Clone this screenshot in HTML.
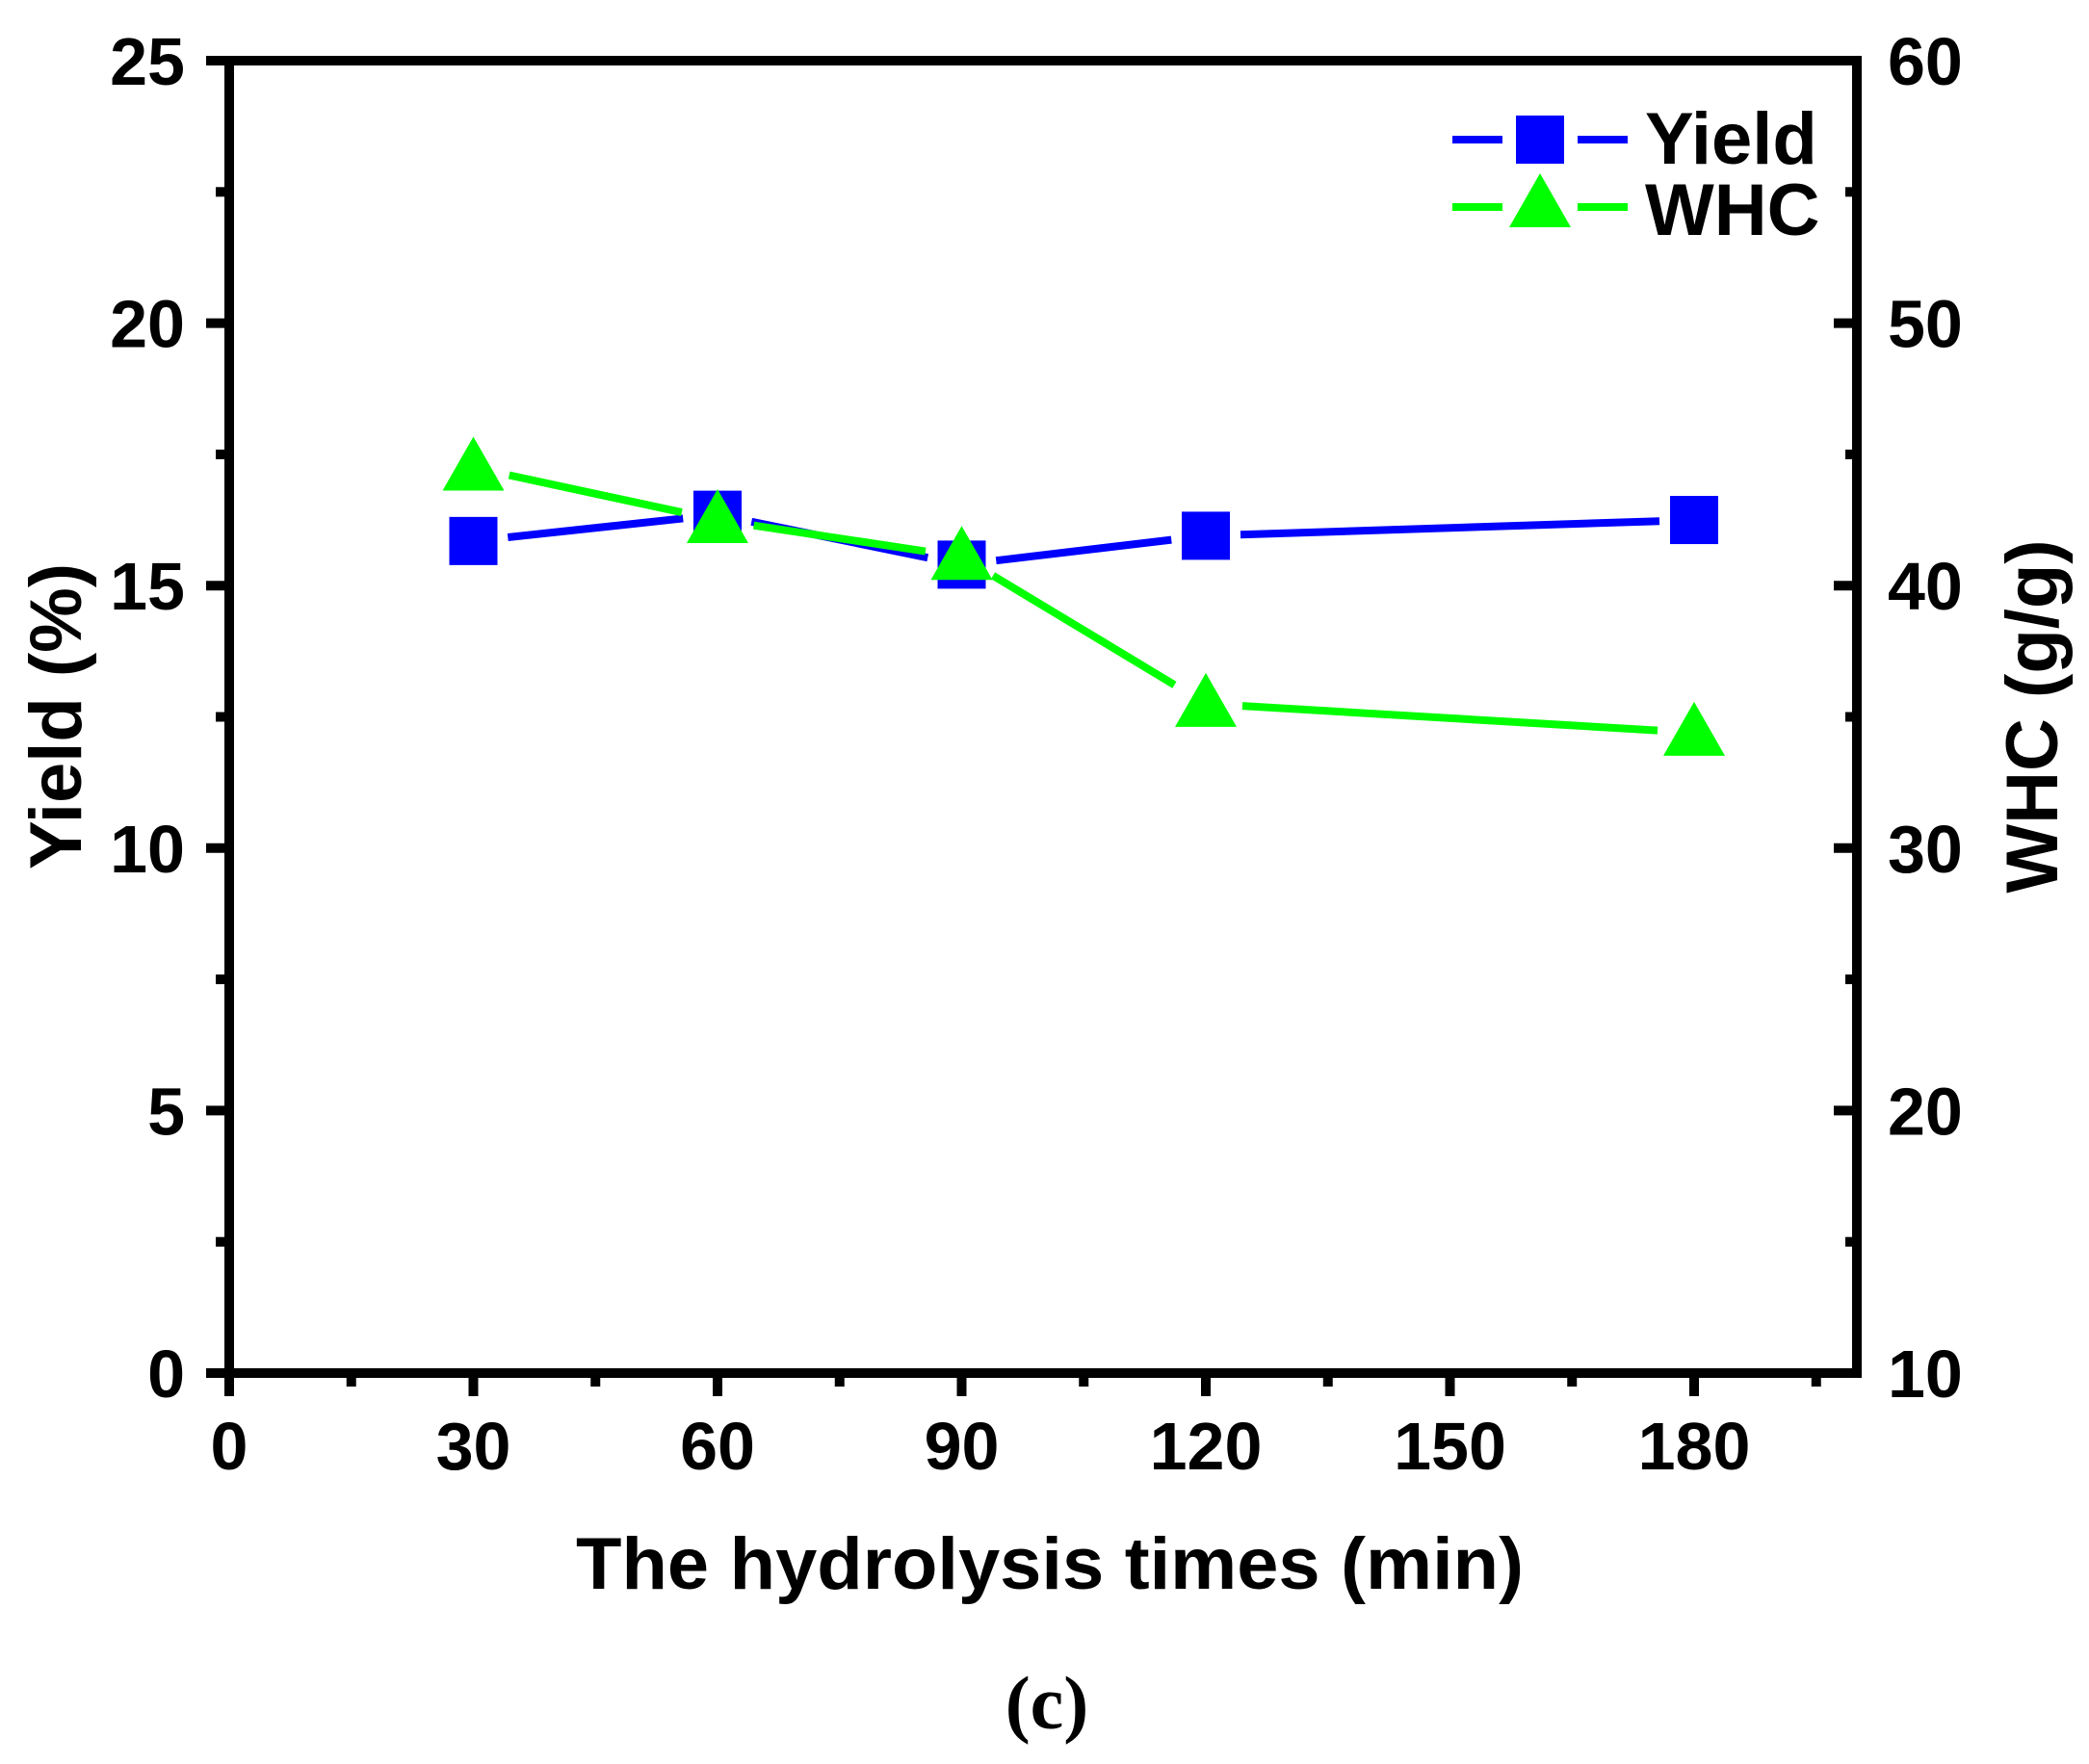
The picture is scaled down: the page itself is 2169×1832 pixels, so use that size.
<!DOCTYPE html>
<html><head><meta charset="utf-8"><style>
html,body{margin:0;padding:0;background:#fff}
svg text{font-family:"Liberation Sans",Arial,sans-serif;font-weight:bold;fill:#000}
</style></head><body>
<svg id="chart" width="2169" height="1827" viewBox="0 0 2169 1827" xmlns="http://www.w3.org/2000/svg">
<g id="axes"></g>
<g id="series"></g>
<g id="legend"></g>
<text x="1090" y="1650" font-size="76" text-anchor="middle" textLength="984" lengthAdjust="spacingAndGlyphs">The hydrolysis times (min)</text>
<text transform="translate(84,744) rotate(-90)" font-size="76" text-anchor="middle">Yield (%)</text>
<text transform="translate(2136,744) rotate(-90)" font-size="76" text-anchor="middle">WHC (g/g)</text>
<text x="1087" y="1795" font-size="78" text-anchor="middle" style="font-family:'Liberation Serif',serif;font-weight:bold">(c)</text>
</svg>
<script>
const times = [30, 60, 90, 120, 180];
const yieldValues = [15.85, 16.35, 15.4, 15.95, 16.25];
const whcValues = [44.5, 42.5, 41.1, 35.5, 34.4];
const xTicks = [0, 30, 60, 90, 120, 150, 180];
const yLeftTicks = [0, 5, 10, 15, 20, 25];
const yRightTicks = [10, 20, 30, 40, 50, 60];

const NS = 'http://www.w3.org/2000/svg';
const L = 238, R = 1928, T = 63, B = 1426;
const X = v => L + (v - 0) / 200 * (R - L);
const YL = v => B - v / 25 * (B - T);
const YR = v => B - (v - 10) / 50 * (B - T);
function mk(parent, tag, attrs) {
  const e = document.createElementNS(NS, tag);
  for (const k in attrs) e.setAttribute(k, attrs[k]);
  parent.appendChild(e);
  return e;
}
const ax = document.getElementById('axes');
const se = document.getElementById('series');
const lg = document.getElementById('legend');

const frame = mk(ax, 'rect', {x: L, y: T, width: R - L, height: B - T, fill: 'none', stroke: '#000', 'stroke-width': 10});



xTicks.forEach(v => {
  const t = mk(ax, 'line', {x1: X(v), x2: X(v), y1: B, y2: B + 24, stroke: '#000', 'stroke-width': 10});
  
  
  const lb = mk(ax, 'text', {x: X(v), y: B + 100, 'font-size': 70, 'text-anchor': 'middle'});
  lb.textContent = v;
  
  
  if (v + 15 < 200) {
    const m = mk(ax, 'line', {x1: X(v + 15), x2: X(v + 15), y1: B, y2: B + 14, stroke: '#000', 'stroke-width': 10});
    
    
  }
});
yLeftTicks.forEach(v => {
  const t = mk(ax, 'line', {x1: L, x2: L - 24, y1: YL(v), y2: YL(v), stroke: '#000', 'stroke-width': 10});
  
  
  const lb = mk(ax, 'text', {x: 192, y: YL(v) + 25, 'font-size': 70, 'text-anchor': 'end'});
  lb.textContent = v;
  
  
  if (v < 25) {
    const m = mk(ax, 'line', {x1: L, x2: L - 14, y1: YL(v + 2.5), y2: YL(v + 2.5), stroke: '#000', 'stroke-width': 10});
    
    
  }
});
yRightTicks.forEach(v => {
  const t = mk(ax, 'line', {x1: R, x2: R - 24, y1: YR(v), y2: YR(v), stroke: '#000', 'stroke-width': 10});
  
  
  const lb = mk(ax, 'text', {x: 1960, y: YR(v) + 25, 'font-size': 70, 'text-anchor': 'start'});
  lb.textContent = v;
  
  
  if (v < 60) {
    const m = mk(ax, 'line', {x1: R, x2: R - 12, y1: YR(v + 5), y2: YR(v + 5), stroke: '#000', 'stroke-width': 10});
    
    
  }
});

function gapSegs(pts, gap, color, name) {
  for (let i = 0; i < pts.length - 1; i++) {
    const [x1, y1] = pts[i], [x2, y2] = pts[i + 1];
    const d = Math.hypot(x2 - x1, y2 - y1);
    const ux = (x2 - x1) / d, uy = (y2 - y1) / d;
    const s = mk(se, 'line', {x1: x1 + ux * gap, y1: y1 + uy * gap, x2: x2 - ux * gap, y2: y2 - uy * gap, stroke: color, 'stroke-width': 8});
    
    
  }
}
gapSegs(times.map((t, i) => [X(t), YL(yieldValues[i])]), 36, '#0000ff', 'yield-line-segment');
gapSegs(times.map((t, i) => [X(t), YR(whcValues[i])]), 38, '#00ff00', 'whc-line-segment');

times.forEach((t, i) => {
  const s = mk(se, 'rect', {x: X(t) - 25, y: YL(yieldValues[i]) - 25, width: 50, height: 50, fill: '#0000ff'});
  
  
});
function tri(cx, cy) { return (cx) + ',' + (cy - 32) + ' ' + (cx - 32) + ',' + (cy + 24) + ' ' + (cx + 32) + ',' + (cy + 24); }
times.forEach((t, i) => {
  const p = mk(se, 'polygon', {points: tri(X(t), YR(whcValues[i])), fill: '#00ff00'});
  
  
});

// Legend
[[1508, 1560], [1638, 1690]].forEach(([a, b]) => {
  const l = mk(lg, 'line', {x1: a, x2: b, y1: 145, y2: 145, stroke: '#0000ff', 'stroke-width': 8});
  
  
  const w = mk(lg, 'line', {x1: a, x2: b, y1: 215, y2: 215, stroke: '#00ff00', 'stroke-width': 8});
  
  
});
const l1m = mk(lg, 'rect', {x: 1574, y: 120, width: 50, height: 50, fill: '#0000ff'});


const l1t = mk(lg, 'text', {x: 1708, y: 170, 'font-size': 76});
l1t.textContent = 'Yield';


const l2m = mk(lg, 'polygon', {points: tri(1599, 212), fill: '#00ff00'});


const l2t = mk(lg, 'text', {x: 1708, y: 244, 'font-size': 76});
l2t.textContent = 'WHC';


</script>
</body></html>
